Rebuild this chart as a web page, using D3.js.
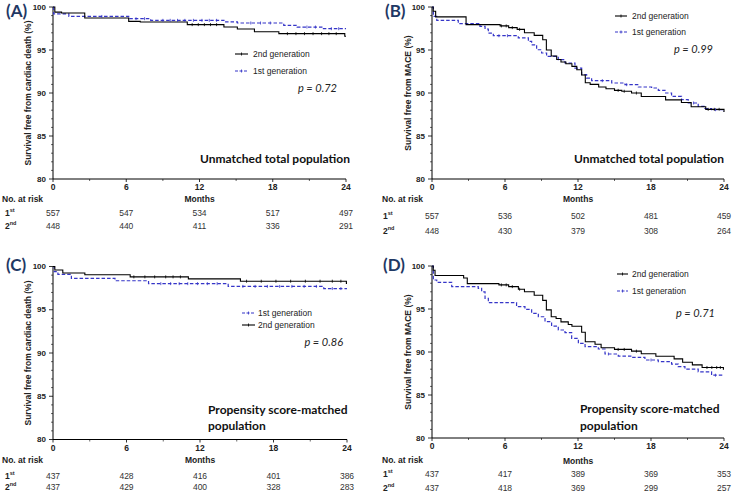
<!DOCTYPE html>
<html><head><meta charset="utf-8">
<script src="https://cdn.jsdelivr.net/npm/d3@7"></script>
<style>
body{margin:0;background:#fff;}
svg{display:block;font-family:"Liberation Sans",Arial,sans-serif;}
</style>
</head><body>
<svg id="chart" width="733" height="497"></svg>
<script>
// ---------- data ----------
const monthTicks = [0, 6, 12, 18, 24];
const monthMinorTicks = [3, 9, 15, 21];
const yTicks = [80, 85, 90, 95, 100];
const yMinorTicks = [81, 82, 83, 84, 86, 87, 88, 89, 91, 92, 93, 94, 96, 97, 98, 99];
const panelLetters = ["(A)", "(B)", "(C)", "(D)"];
const yTitles = ["Survival free from cardiac death (%)", "Survival free from MACE (%)",
                 "Survival free from cardiac death (%)", "Survival free from MACE (%)"];
const populationLabels = [["Unmatched total population"], ["Unmatched total population"],
                          ["Propensity score-matched", "population"], ["Propensity score-matched", "population"]];
const pValues = ["p = 0.72", "p = 0.99", "p = 0.86", "p = 0.71"];
const legendOrder = [["2nd generation", "1st generation"], ["2nd generation", "1st generation"],
                     ["1st generation", "2nd generation"], ["2nd generation", "1st generation"]];
const riskFirst  = [[557, 547, 534, 517, 497], [557, 536, 502, 481, 459], [437, 428, 416, 401, 386], [437, 417, 389, 369, 353]];
const riskSecond = [[448, 440, 411, 336, 291], [448, 430, 379, 308, 264], [437, 429, 400, 328, 283], [437, 418, 369, 299, 257]];

// Kaplan-Meier steps: [month, survival % after that month]
const firstGenA  = [[0,100],[0.05,99.2],[1.3,98.9],[6.2,98.64],[8.0,98.45],[14.0,98.26],[15.1,98.14],[18.9,97.87],[20.0,97.67],[22.1,97.48]];
const secondGenA = [[0,100],[0.15,99.4],[0.7,99.3],[2.6,98.72],[6.2,98.33],[7.15,98.25],[11.0,97.95],[14.0,97.67],[15.1,97.44],[16.5,97.13],[18.5,96.9],[23.9,96.6]];
const firstGenB  = [[0,100],[0.11,98.9],[0.39,98.45],[2.16,98.06],[3.94,97.75],[4.36,97.44],[4.63,96.97],[5.04,96.66],[7.09,96.4],[7.92,96.0],[8.19,95.6],[8.6,95.03],[9.01,94.65],[9.42,94.26],[10.38,93.87],[10.93,93.49],[11.75,92.9],[12.3,92.13],[12.71,91.74],[13.12,91.43],[14.77,91.16],[15.86,90.97],[16.96,90.7],[18.05,90.58],[18.6,90.31],[19.15,90.0],[19.69,89.6],[20.51,89.22],[21.06,88.84],[21.88,88.45],[22.43,88.2],[22.98,88.06],[23.94,87.86]];
const secondGenB = [[0,100],[0.1,99.5],[0.3,98.85],[2.8,97.95],[5.6,97.8],[6.3,97.6],[7.0,97.4],[7.6,97.0],[8.4,96.7],[9.1,96.2],[9.4,95.0],[9.8,94.3],[10.25,93.9],[10.6,93.6],[11.0,93.4],[11.5,93.1],[11.9,92.7],[12.3,92.1],[12.6,91.2],[13.0,91.0],[13.7,90.7],[14.3,90.5],[15.0,90.3],[15.6,90.2],[16.4,90.0],[17.2,89.6],[19.2,89.2],[20.5,88.9],[21.3,88.4],[22.5,88.1],[24.0,87.8]];
const firstGenC  = [[0,100],[0.1,99.4],[0.4,99.1],[1.5,98.62],[5.06,98.35],[7.8,98.02],[14.3,97.7],[22.1,97.45]];
const secondGenC = [[0,100],[0.15,99.6],[0.8,99.25],[2.6,99.05],[6.3,98.8],[11.05,98.57],[15.3,98.3],[23.95,98.05]];
const firstGenD  = [[0,100],[0.11,98.37],[0.39,98.1],[1.62,97.6],[3.8,97.4],[4.08,97.0],[4.36,96.24],[4.63,95.74],[6.95,95.27],[7.64,94.96],[8.19,94.5],[8.74,94.1],[9.29,93.53],[9.83,93.02],[10.38,92.56],[10.93,92.25],[11.48,91.59],[12.03,91.0],[12.58,90.62],[13.67,90.35],[14.22,89.77],[15.31,89.53],[16.41,89.38],[17.5,89.07],[18.6,88.88],[19.69,88.6],[20.24,88.3],[20.79,88.0],[21.88,87.7],[22.98,87.3]];
const secondGenD = [[0,100],[0.1,99.5],[0.25,98.9],[2.6,98.6],[2.9,97.95],[5.5,97.8],[6.3,97.6],[7.1,97.3],[7.6,97.0],[8.4,96.6],[9.1,96.0],[9.4,94.9],[9.8,94.1],[10.2,93.9],[10.6,93.5],[11.2,93.2],[11.5,93.0],[12.3,92.3],[12.6,91.2],[13.4,90.9],[13.9,90.5],[15.0,90.3],[16.4,90.1],[17.2,89.8],[18.4,89.5],[19.9,89.2],[20.6,88.8],[21.4,88.5],[22.2,88.2],[23.95,88.0]];

// censoring tick times (months)
const censorFirstA  = [4.0, 6.8, 7.5, 9.0, 9.6, 10.2, 10.8, 11.5, 12.2, 12.8, 13.4, 16.2, 17.0, 17.8, 20.8, 21.5, 22.8, 23.4];
const censorSecondA = [11.4, 11.9, 12.4, 12.9, 13.4, 19.2, 19.9, 20.6, 21.3, 22.0, 22.6, 23.2];
const censorFirstB  = [5.5, 6.2, 14.0, 16.0, 21.5, 23.3];
const censorSecondB = [5.7, 6.1, 6.6, 7.2, 15.3, 15.8, 16.8, 22.7, 23.2, 23.6];
const censorFirstC  = [8.8, 9.6, 10.3, 11.0, 11.8, 12.6, 13.4, 15.5, 16.5, 17.5, 18.5, 19.5, 20.5, 21.5, 22.8, 23.5];
const censorSecondC = [6.6, 7.5, 8.3, 9.2, 9.8, 10.4, 15.8, 17.0, 18.2, 19.4, 20.6, 21.8, 22.8, 23.5];
const censorFirstD  = [14.5, 18.0, 23.3];
const censorSecondD = [5.7, 6.1, 6.6, 7.2, 15.3, 15.8, 16.8, 22.6, 23.0, 23.4, 23.7];

const firstSeries  = [firstGenA, firstGenB, firstGenC, firstGenD];
const secondSeries = [secondGenA, secondGenB, secondGenC, secondGenD];
const firstCensor  = [censorFirstA, censorFirstB, censorFirstC, censorFirstD];
const secondCensor = [censorSecondA, censorSecondB, censorSecondC, censorSecondD];

// ---------- layout ----------
const layouts = [
  {px:[53,346], py:[7,179], letter:[6,10], yTitleX:28, legLine:[235,248], legTextX:253, legY:[54,71], pX:337, pY:87, popAnchor:"end", popX:350, popY:[158], tickY:187, monthsY:199, riskLabelX:2, riskRowX:5, riskY:[199,213,226]},
  {px:[432,724], py:[7,179], letter:[385,10], yTitleX:408, legLine:[615,627], legTextX:632, legY:[16,32], pX:713, pY:48, popAnchor:"end", popX:724, popY:[158], tickY:187, monthsY:199, riskLabelX:382, riskRowX:383, riskY:[199,216,231]},
  {px:[53,347], py:[266.5,439.5], letter:[6,264], yTitleX:28, legLine:[242,255], legTextX:258, legY:[313,325], pX:343, pY:341, popAnchor:"start", popX:208, popY:[409,425], tickY:448, monthsY:460, riskLabelX:2, riskRowX:5, riskY:[460,476,487]},
  {px:[432,724], py:[266,438], letter:[383,264], yTitleX:408, legLine:[617,628], legTextX:632, legY:[274,291], pX:715, pY:312, popAnchor:"start", popX:580, popY:[408,425], tickY:446, monthsY:461, riskLabelX:382, riskRowX:383, riskY:[460,474,488]}
];

const BLUE = "#3535c8";
const DARK = "#222";
const NAVY = "#1f3864";

const svg = d3.select("#chart");

function survAt(data, t) {
  let v = 100;
  for (const [ti, vi] of data) if (ti <= t) v = vi;
  return v;
}

layouts.forEach((L, i) => {
  const g = svg.append("g");
  const x = d3.scaleLinear().domain([0, 24]).range(L.px);
  const y = d3.scaleLinear().domain([80, 100]).range([L.py[1], L.py[0]]);

  // axes lines
  g.append("line").attr("x1", x(0)).attr("x2", x(0)).attr("y1", y(80)).attr("y2", y(100))
    .attr("stroke", "#000").attr("stroke-width", 1);
  g.append("line").attr("x1", x(0)).attr("x2", x(24)).attr("y1", y(80)).attr("y2", y(80))
    .attr("stroke", "#000").attr("stroke-width", 1);

  // y ticks
  g.selectAll(".ymaj").data(yTicks).join("line")
    .attr("x1", x(0) - 4).attr("x2", x(0)).attr("y1", d => y(d)).attr("y2", d => y(d))
    .attr("stroke", "#000").attr("stroke-width", 0.8);
  g.selectAll(".ymin").data(yMinorTicks).join("line")
    .attr("x1", x(0) - 2).attr("x2", x(0)).attr("y1", d => y(d)).attr("y2", d => y(d))
    .attr("stroke", "#000").attr("stroke-width", 0.6);
  g.selectAll(".ylab").data(yTicks).join("text")
    .attr("x", x(0) - 7).attr("y", d => y(d)).attr("dominant-baseline", "central")
    .attr("text-anchor", "end").attr("font-size", 8).attr("font-weight", "bold").attr("fill", DARK)
    .text(d => d);

  // x ticks
  g.selectAll(".xmaj").data(monthTicks).join("line")
    .attr("x1", d => x(d)).attr("x2", d => x(d)).attr("y1", y(80)).attr("y2", y(80) + 3)
    .attr("stroke", "#000").attr("stroke-width", 0.8);
  g.selectAll(".xmin").data(monthMinorTicks).join("line")
    .attr("x1", d => x(d)).attr("x2", d => x(d)).attr("y1", y(80)).attr("y2", y(80) + 2)
    .attr("stroke", "#000").attr("stroke-width", 0.6);
  g.selectAll(".xlab").data(monthTicks).join("text")
    .attr("x", d => x(d)).attr("y", L.tickY).attr("dominant-baseline", "central")
    .attr("text-anchor", "middle").attr("font-size", 8.5).attr("font-weight", "bold").attr("fill", DARK)
    .text(d => d);
  g.append("text").attr("x", x(12)).attr("y", L.monthsY).attr("dominant-baseline", "central")
    .attr("text-anchor", "middle").attr("font-size", 8.5).attr("font-weight", "bold").attr("fill", DARK)
    .text("Months");

  // y title
  const cy = (L.py[0] + L.py[1]) / 2;
  g.append("text").attr("transform", `translate(${L.yTitleX},${cy}) rotate(-90)`)
    .attr("text-anchor", "middle").attr("dominant-baseline", "central")
    .attr("font-size", 8.5).attr("font-weight", "bold").attr("fill", DARK)
    .text(yTitles[i]);

  // panel letter
  g.append("text").attr("x", L.letter[0]).attr("y", L.letter[1]).attr("dominant-baseline", "central")
    .attr("font-family", "Lato, 'Open Sans', sans-serif").attr("font-size", 17).attr("font-weight", "bold")
    .attr("fill", NAVY).text(panelLetters[i]);

  // curves
  const line = d3.line().x(d => x(d[0])).y(d => y(d[1])).curve(d3.curveStepAfter);
  const ext = s => s.concat([[24, s[s.length - 1][1]]]);
  g.append("path").datum(ext(firstSeries[i])).attr("d", line)
    .attr("fill", "none").attr("stroke", BLUE).attr("stroke-width", 1.2).attr("stroke-dasharray", "3.5,2");
  g.append("path").datum(ext(secondSeries[i])).attr("d", line)
    .attr("fill", "none").attr("stroke", "#000").attr("stroke-width", 1.1);

  // censor marks
  g.selectAll(".c1").data(firstCensor[i]).join("line")
    .attr("x1", d => x(d)).attr("x2", d => x(d))
    .attr("y1", d => y(survAt(firstSeries[i], d)) - 1.5).attr("y2", d => y(survAt(firstSeries[i], d)) + 1.5)
    .attr("stroke", BLUE).attr("stroke-width", 0.8);
  g.selectAll(".c2").data(secondCensor[i]).join("line")
    .attr("x1", d => x(d)).attr("x2", d => x(d))
    .attr("y1", d => y(survAt(secondSeries[i], d)) - 1.5).attr("y2", d => y(survAt(secondSeries[i], d)) + 1.5)
    .attr("stroke", "#000").attr("stroke-width", 0.8);

  // legend
  legendOrder[i].forEach((name, k) => {
    const isFirst = name.startsWith("1st");
    const ly = L.legY[k];
    g.append("line").attr("x1", L.legLine[0]).attr("x2", L.legLine[1]).attr("y1", ly).attr("y2", ly)
      .attr("stroke", isFirst ? BLUE : "#000").attr("stroke-width", 1.1)
      .attr("stroke-dasharray", isFirst ? "3,1.5" : null);
    const mx = (L.legLine[0] + L.legLine[1]) / 2;
    g.append("line").attr("x1", mx).attr("x2", mx).attr("y1", ly - 1.5).attr("y2", ly + 1.5)
      .attr("stroke", isFirst ? BLUE : "#000").attr("stroke-width", 0.8);
    g.append("text").attr("x", L.legTextX).attr("y", ly).attr("dominant-baseline", "central")
      .attr("font-size", 8.5).attr("fill", DARK).text(name);
  });

  // p value
  g.append("text").attr("x", L.pX).attr("y", L.pY).attr("dominant-baseline", "central")
    .attr("text-anchor", "end").attr("font-family", "Lato, sans-serif").attr("font-style", "italic")
    .attr("font-size", 11).attr("fill", DARK).text(pValues[i]);

  // population label
  populationLabels[i].forEach((t, k) => {
    g.append("text").attr("x", L.popX).attr("y", L.popY[k]).attr("dominant-baseline", "central")
      .attr("text-anchor", L.popAnchor).attr("font-family", "Lato, sans-serif").attr("font-weight", "bold")
      .attr("font-size", 12).attr("fill", "#111").text(t);
  });

  // number at risk
  g.append("text").attr("x", L.riskLabelX).attr("y", L.riskY[0]).attr("dominant-baseline", "central")
    .attr("font-size", 8.5).attr("font-weight", "bold").attr("fill", DARK).text("No. at risk");
  [["1", "st", riskFirst[i]], ["2", "nd", riskSecond[i]]].forEach(([a, b, vals], k) => {
    const t = g.append("text").attr("x", L.riskRowX).attr("y", L.riskY[k + 1]).attr("dominant-baseline", "central")
      .attr("font-size", 8.5).attr("font-weight", "bold").attr("fill", DARK);
    t.append("tspan").text(a);
    t.append("tspan").attr("font-size", 5.5).attr("dy", -3).text(b);
    g.selectAll(null).data(vals).join("text")
      .attr("x", (d, j) => x(monthTicks[j])).attr("y", L.riskY[k + 1]).attr("dominant-baseline", "central")
      .attr("text-anchor", "middle").attr("font-size", 8.5).attr("fill", "#333").text(d => d);
  });
});
</script>
</body></html>
